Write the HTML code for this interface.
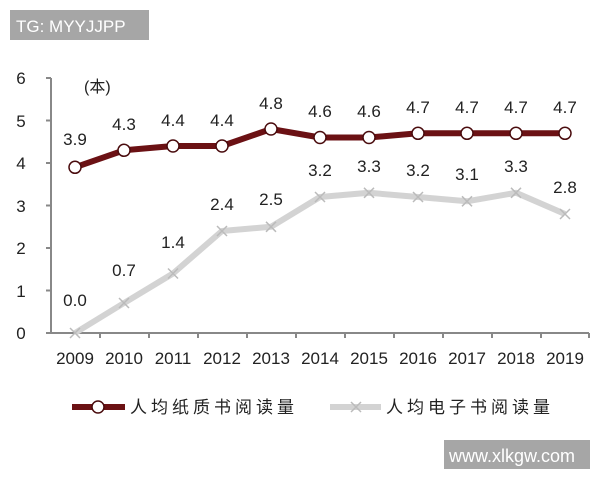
<!DOCTYPE html>
<html><head><meta charset="utf-8"><style>
body{margin:0;background:#fff;width:600px;height:480px;overflow:hidden}
svg text{font-family:"Liberation Sans","Noto Sans CJK SC",sans-serif;fill:#222}
</style></head><body>
<svg width="600" height="480" xmlns="http://www.w3.org/2000/svg">
<rect x="10" y="10" width="139" height="30" fill="#a6a6a6"/>
<text x="16" y="32" font-size="17" style="fill:#fff">TG: MYYJJPP</text>
<rect x="444" y="440" width="146" height="29" fill="#a6a6a6"/>
<text x="449" y="462" font-size="18" style="fill:#fff">www.xlkgw.com</text>
<g stroke="#888" stroke-width="2" fill="none">
<path d="M51 78V333H589"/>
<path d="M46 78H51M46 120.5H51M46 163H51M46 205.5H51M46 248H51M46 290.5H51M46 333H51"/>
<path d="M100 333v5M149 333v5M198 333v5M247 333v5M296 333v5M345 333v5M394 333v5M443 333v5M492 333v5M541 333v5M589 333v5"/>
</g>
<g font-size="17" text-anchor="middle">
<text x="21" y="84">6</text><text x="21" y="127">5</text><text x="21" y="169">4</text><text x="21" y="212">3</text><text x="21" y="254">2</text><text x="21" y="297">1</text><text x="21" y="339">0</text>
<text x="75" y="364">2009</text><text x="124" y="364">2010</text><text x="173" y="364">2011</text><text x="222" y="364">2012</text><text x="271" y="364">2013</text><text x="320" y="364">2014</text><text x="369" y="364">2015</text><text x="418" y="364">2016</text><text x="467" y="364">2017</text><text x="516" y="364">2018</text><text x="565" y="364">2019</text>
</g>
<text x="84" y="92" font-size="16">(本)</text>
<polyline fill="none" stroke="#d3d3d3" stroke-width="6" stroke-linejoin="round" points="75,333 124,303 173,273.5 222,231 271,226.8 320,197 369,192.8 418,197 467,201.3 516,192.8 565,214"/>
<g stroke="#bbb" stroke-width="1.5">
<path d="M70 328l10 10M80 328l-10 10M119 298l10 10M129 298l-10 10M168 268.5l10 10M178 268.5l-10 10M217 226l10 10M227 226l-10 10M266 221.8l10 10M276 221.8l-10 10M315 192l10 10M325 192l-10 10M364 187.8l10 10M374 187.8l-10 10M413 192l10 10M423 192l-10 10M462 196.3l10 10M472 196.3l-10 10M511 187.8l10 10M521 187.8l-10 10M560 209l10 10M570 209l-10 10"/>
</g>
<polyline fill="none" stroke="#6b1114" stroke-width="6" stroke-linejoin="round" points="75,167.3 124,150.3 173,146 222,146 271,129 320,137.5 369,137.5 418,133.3 467,133.3 516,133.3 565,133.3"/>
<g fill="#fff" stroke="#4a0c0e" stroke-width="1.5">
<circle cx="75" cy="167.3" r="6"/><circle cx="124" cy="150.3" r="6"/><circle cx="173" cy="146" r="6"/><circle cx="222" cy="146" r="6"/><circle cx="271" cy="129" r="6"/><circle cx="320" cy="137.5" r="6"/><circle cx="369" cy="137.5" r="6"/><circle cx="418" cy="133.3" r="6"/><circle cx="467" cy="133.3" r="6"/><circle cx="516" cy="133.3" r="6"/><circle cx="565" cy="133.3" r="6"/>
</g>
<g font-size="17" text-anchor="middle">
<text x="75" y="145">3.9</text><text x="124" y="130">4.3</text><text x="173" y="126">4.4</text><text x="222" y="126">4.4</text><text x="271" y="109">4.8</text><text x="320" y="117">4.6</text><text x="369" y="117">4.6</text><text x="418" y="113">4.7</text><text x="467" y="113">4.7</text><text x="516" y="113">4.7</text><text x="565" y="113">4.7</text>
<text x="75" y="306">0.0</text><text x="124" y="276">0.7</text><text x="173" y="248">1.4</text><text x="222" y="210">2.4</text><text x="271" y="205">2.5</text><text x="320" y="176">3.2</text><text x="369" y="172">3.3</text><text x="418" y="176">3.2</text><text x="467" y="180">3.1</text><text x="516" y="172">3.3</text><text x="565" y="193">2.8</text>
</g>
<line x1="72" y1="407" x2="125" y2="407" stroke="#6b1114" stroke-width="6"/>
<circle cx="98" cy="407" r="6" fill="#fff" stroke="#4a0c0e" stroke-width="1.5"/>
<text x="130" y="413" font-size="17" letter-spacing="4">人均纸质书阅读量</text>
<line x1="330" y1="407" x2="381" y2="407" stroke="#d3d3d3" stroke-width="6"/>
<path d="M351 402l10 10M361 402l-10 10" stroke="#bbb" stroke-width="1.5"/>
<text x="386" y="413" font-size="17" letter-spacing="4">人均电子书阅读量</text>
</svg>
</body></html>
